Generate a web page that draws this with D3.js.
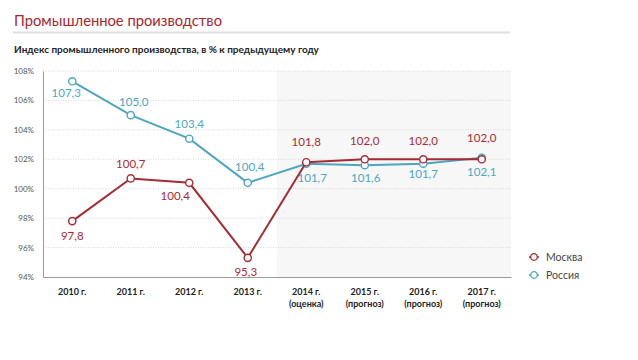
<!DOCTYPE html>
<html><head><meta charset="utf-8">
<script src="https://d3js.org/d3.v7.min.js"></script>
<style>body{margin:0;background:#fff;}svg{display:block;}</style>
</head><body>
<script>
const categories = ["2010 г.","2011 г.","2012 г.","2013 г.","2014 г.","2015 г.","2016 г.","2017 г."];
const subLabels = ["","","","","(оценка)","(прогноз)","(прогноз)","(прогноз)"];
const moscow = [97.8,100.7,100.4,95.3,101.8,102.0,102.0,102.0];
const russia = [107.3,105.0,103.4,100.4,101.7,101.6,101.7,102.1];
const yTicks = [94,96,98,100,102,104,106,108];
const seriesNames = ["Москва","Россия"];

// label offsets (layout only): [dx, dy-baseline]
const moscowLabelOff = [[0,19],[0,-10],[-14,17],[-2,18],[0,-16],[0,-14],[0,-14],[0,-17]];
const russiaLabelOff = [[-6,16],[3,-9],[0,-11],[2,-12],[6,18],[1,17],[0,14],[0,18]];

const W=638,H=360;
const RED="#a82a33", BLUE="#4ca6c0";
const font="Lato, 'Open Sans', sans-serif";
const svg=d3.select("body").append("svg").attr("width",W).attr("height",H).style("font-family",font);

svg.append("text").attr("x",14).attr("y",25.5).attr("fill","#a8262e").attr("font-size",16)
  .attr("textLength",208).attr("lengthAdjust","spacingAndGlyphs").text("Промышленное производство");
svg.append("rect").attr("x",13).attr("y",31.5).attr("width",497).attr("height",2).attr("fill","#e0e0e0");
svg.append("text").attr("x",14).attr("y",53).attr("fill","#222").attr("font-size",10).attr("font-weight","bold").text("Индекс промышленного производства, в % к предыдущему году");

const x=d3.scaleBand().domain(categories).range([43,511]);
const y=d3.scaleLinear().domain([94,108]).range([277,71]);

svg.append("rect").attr("x",x(categories[4])).attr("y",y(108)).attr("width",511-x(categories[4])).attr("height",y(94)-y(108)).attr("fill","#f7f7f7");

svg.append("g").selectAll("line").data(yTicks.filter(d=>d>94)).join("line")
 .attr("x1",43).attr("x2",511).attr("y1",d=>y(d)).attr("y2",d=>y(d))
 .attr("stroke","#cfcfcf").attr("stroke-width",0.8).attr("stroke-dasharray","1,1.5");

const ya=svg.append("g").attr("transform","translate(43,0)").call(d3.axisLeft(y).tickValues(yTicks).tickSize(0).tickPadding(9).tickFormat(d=>d+"%"));
ya.select(".domain").attr("stroke","#9a9a9a");
ya.selectAll("text").attr("font-size",8).attr("fill","#555").attr("font-family",font);

const xa=svg.append("g").attr("transform","translate(0,277)").call(d3.axisBottom(x).tickSize(0).tickPadding(0).tickFormat(()=>""));
xa.select(".domain").attr("stroke","#9a9a9a");
xa.selectAll(".tick").each(function(d,i){
  const g=d3.select(this);
  g.select("text").remove();
  g.append("text").attr("y",18).attr("text-anchor","middle").attr("font-size",9).attr("font-weight","bold").attr("fill","#222").attr("font-family",font).text(d);
  if(subLabels[i]) g.append("text").attr("y",29.5).attr("text-anchor","middle").attr("font-size",9).attr("font-weight","bold").attr("fill","#222").attr("font-family",font).text(subLabels[i]);
});

const cx=d=>x(d)+x.bandwidth()/2;
const fmt=v=>v.toFixed(1).replace(".",",");

function drawSeries(vals,color,off){
  const line=d3.line().x((d,i)=>cx(categories[i])).y(d=>y(d));
  svg.append("path").datum(vals).attr("d",line).attr("fill","none").attr("stroke",color).attr("stroke-width",2);
  svg.append("g").selectAll("circle").data(vals).join("circle")
   .attr("cx",(d,i)=>cx(categories[i])).attr("cy",d=>y(d)).attr("r",3.6)
   .attr("fill","#fff").attr("stroke",color).attr("stroke-width",1.4);
  svg.append("g").selectAll("text").data(vals).join("text")
   .attr("x",(d,i)=>cx(categories[i])+off[i][0]).attr("y",(d,i)=>y(d)+off[i][1])
   .attr("text-anchor","middle").attr("font-size",11.5).attr("fill",color).text(d=>fmt(d));
}
drawSeries(russia,BLUE,russiaLabelOff);
drawSeries(moscow,RED,moscowLabelOff);

const leg=svg.append("g").attr("transform","translate(534,257)");
[[RED,0],[BLUE,1]].forEach(([c,i])=>{
  const g=leg.append("g").attr("transform",`translate(0,${i*18})`);
  g.append("line").attr("x1",-5).attr("x2",5).attr("stroke",c).attr("stroke-width",1.5);
  g.append("circle").attr("r",3.3).attr("fill","#fff").attr("stroke",c).attr("stroke-width",1.3);
  g.append("text").attr("x",12).attr("y",3.5).attr("font-size",10.5).attr("fill","#444").text(seriesNames[i]);
});
</script>
</body></html>
